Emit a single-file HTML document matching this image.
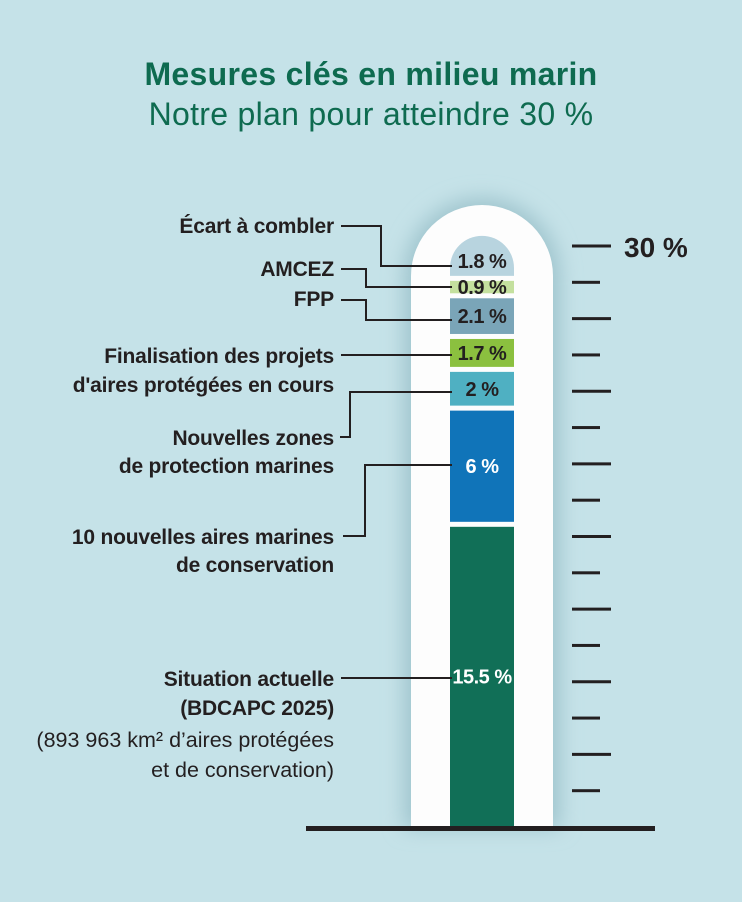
<!DOCTYPE html>
<html><head><meta charset="utf-8"><style>
body{margin:0;background:#c5e2e8;}
svg{display:block;font-family:"Liberation Sans",sans-serif;}
</style></head><body>
<svg width="742" height="902" viewBox="0 0 742 902">
<defs>
<filter id="sh" x="-50%" y="-20%" width="200%" height="140%"><feGaussianBlur stdDeviation="10"/></filter>
</defs>
<rect width="742" height="902" fill="#c5e2e8"/>
<text x="371" y="85" text-anchor="middle" font-size="32" font-weight="bold" fill="#0e6b50" letter-spacing="0.3">Mesures clés en milieu marin</text>
<text x="371" y="125" text-anchor="middle" font-size="32" fill="#0e6b50" letter-spacing="0.3">Notre plan pour atteindre 30 %</text>
<path d="M404 828 V276 A78 78 0 0 1 560 276 V828 Z" fill="#9fc4cd" filter="url(#sh)"/>
<path d="M411 828 V276 A71 71 0 0 1 553 276 V828 Z" fill="#fdfdfd"/>
<g id="bars"></g>
<g id="ticks"></g>
<g id="leaders" stroke="#231f20" stroke-width="2" fill="none"></g>
<g id="labels" font-size="21" font-weight="bold" fill="#231f20" text-anchor="end" letter-spacing="-0.2"></g>
<text x="624" y="257" font-size="28" font-weight="bold" fill="#231f20">30 %</text>
<text x="334" y="747" text-anchor="end" font-size="21.5" fill="#231f20">(893 963 km² d’aires protégées</text>
<text x="334" y="777" text-anchor="end" font-size="21.5" fill="#231f20">et de conservation)</text>
<rect x="306" y="826" width="349" height="5" fill="#231f20"/>
</svg>
<script>
const categories=["Situation actuelle","10 nouvelles aires marines de conservation","Nouvelles zones de protection marines","Finalisation des projets d'aires protégées en cours","FPP","AMCEZ","Écart à combler"];
const values=[15.5,6,2,1.7,2.1,0.9,1.8];
const valueLabels=["15.5 %","6 %","2 %","1.7 %","2.1 %","0.9 %","1.8 %"];
const colors=["#116f57","#1074b9","#4fb0c2","#8bc03f","#7aa5b8","#c4e09e","#b8d4df"];
const textColors=["#fff","#fff","#231f20","#231f20","#231f20","#231f20","#231f20"];
const tickMax=30, tickCount=16;
const NS="http://www.w3.org/2000/svg";
const y0=827, y30=246;
function y(v){return y0-(v/tickMax)*(y0-y30);}
function mk(t,a,p){const e=document.createElementNS(NS,t);for(const k in a)e.setAttribute(k,a[k]);p.appendChild(e);return e;}
const bars=document.getElementById('bars');
let cum=0;
values.forEach((v,i)=>{
  const yb=y(cum)-(i===0?1:5), yt=y(cum+v);
  cum+=v;
  let el;
  if(i===values.length-1){
    el=mk('path',{d:`M450 ${yb} L450 ${yb-8} A32 32 0 0 1 514 ${yb-8} L514 ${yb} Z`,fill:colors[i]},bars);
  } else {
    el=mk('rect',{x:450,y:yt,width:64,height:Math.max(1,yb-yt),fill:colors[i]},bars);
  }
  
  
  const tx=mk('text',{x:482,y:(yt+yb)/2+7,'text-anchor':'middle','font-size':20,'font-weight':'bold',fill:textColors[i],'letter-spacing':'-0.5'},bars);
  tx.textContent=valueLabels[i];
  
  
});
const ticks=document.getElementById('ticks');
for(let k=1;k<=tickCount;k++){
  const v=k*tickMax/tickCount;
  const long=(tickCount-k)%2===0;
  const t=mk('rect',{x:572,y:y(v)-1.5,width:long?39:28,height:3,fill:'#231f20'},ticks);
  
  
}
const leaders=document.getElementById('leaders');
const L=[
 "M341 226 H381 V266 H452","M341 269 H366 V287 H452","M341 300 H366 V320 H452",
 "M341 355 H452","M340 437 H350 V392 H452","M343 536 H365 V465 H452","M341 678 H452"];
L.forEach(d=>{const p=mk('path',{d},leaders);
 
 });
const labels=document.getElementById('labels');
const lab=[["Écart à combler",233],["AMCEZ",276],["FPP",306],["Finalisation des projets",363],["d'aires protégées en cours",392],["Nouvelles zones",445],["de protection marines",473],["10 nouvelles aires marines",544],["de conservation",572],["Situation actuelle",686],["(BDCAPC 2025)",715]];
lab.forEach(([s,yy])=>{const t=mk('text',{x:334,y:yy},labels);t.textContent=s;
 
 });
</script>
</body></html>
